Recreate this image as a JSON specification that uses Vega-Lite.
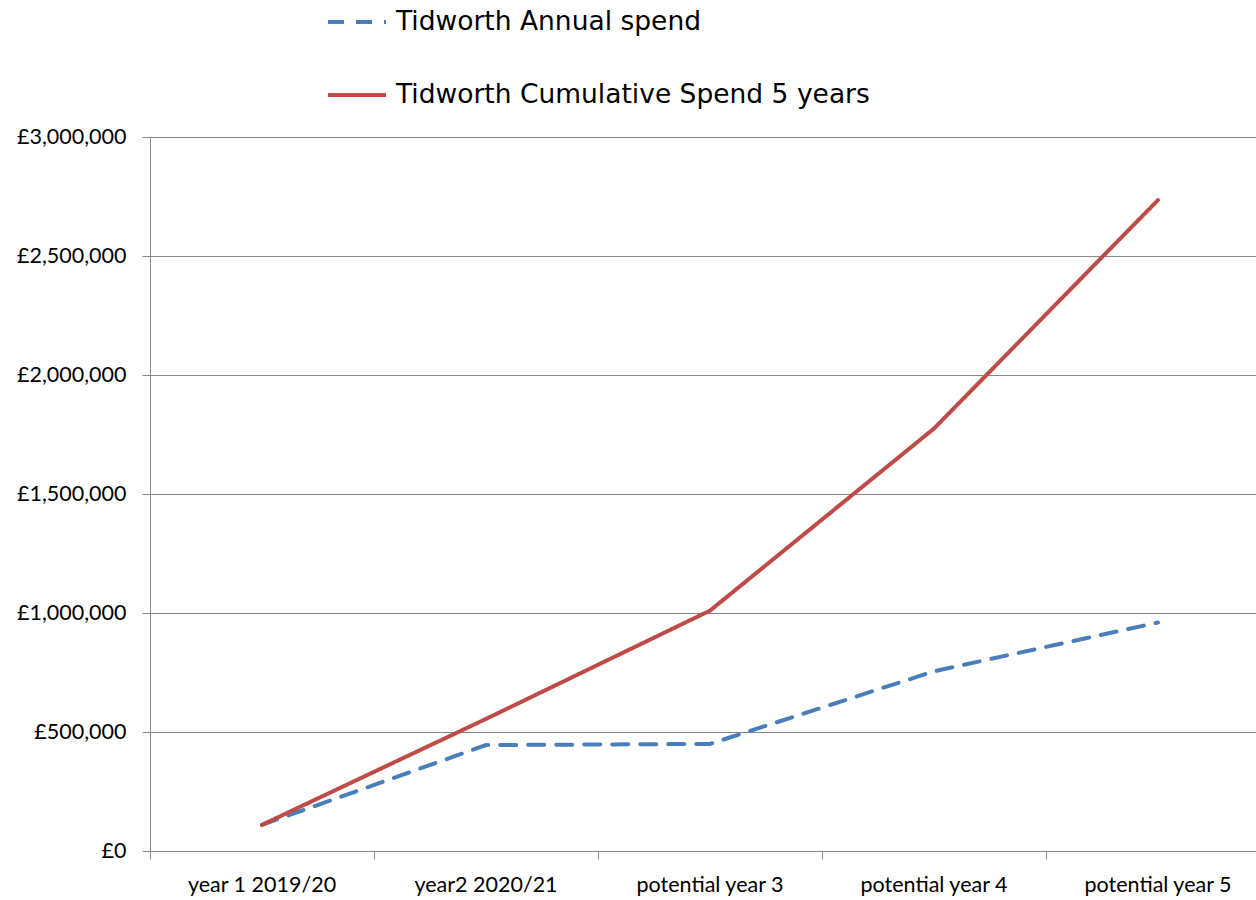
{
  "$schema": "https://vega.github.io/schema/vega-lite/v6.json",
  "width": 1106,
  "height": 714,
  "autosize": {"type": "none"},
  "padding": {"left": 150, "top": 137, "right": 0, "bottom": 49},
  "background": "white",
  "config": {"view": {"stroke": null}},
  "data": {
    "values": [
      {"year": "year 1 2019/20", "series": "Tidworth Annual spend", "value": 110000},
      {"year": "year2 2020/21", "series": "Tidworth Annual spend", "value": 445000},
      {"year": "potential year 3", "series": "Tidworth Annual spend", "value": 450000},
      {"year": "potential year 4", "series": "Tidworth Annual spend", "value": 755000},
      {"year": "potential year 5", "series": "Tidworth Annual spend", "value": 960000},
      {"year": "year 1 2019/20", "series": "Tidworth Cumulative Spend 5 years", "value": 110000},
      {"year": "year2 2020/21", "series": "Tidworth Cumulative Spend 5 years", "value": 555000},
      {"year": "potential year 3", "series": "Tidworth Cumulative Spend 5 years", "value": 1010000},
      {"year": "potential year 4", "series": "Tidworth Cumulative Spend 5 years", "value": 1775000},
      {"year": "potential year 5", "series": "Tidworth Cumulative Spend 5 years", "value": 2735000}
    ]
  },
  "mark": {"type": "line", "strokeWidth": 4, "strokeCap": "round"},
  "encoding": {
    "x": {
      "field": "year",
      "type": "nominal",
      "sort": null,
      "scale": {"type": "band", "range": [0, 1120], "paddingInner": 0, "paddingOuter": 0},
      "axis": {
        "title": null,
        "labelAngle": 0,
        "bandPosition": 0,
        "labelBound": false,
        "labelFont": "Lato",
        "labelFontSize": 21.5,
        "labelColor": "#000000",
        "labelPadding": 15,
        "tickSize": 8,
        "tickColor": "#868686",
        "domainColor": "#868686",
        "grid": false
      }
    },
    "y": {
      "field": "value",
      "type": "quantitative",
      "scale": {"domain": [0, 3000000], "nice": false},
      "axis": {
        "title": null,
        "values": [0, 500000, 1000000, 1500000, 2000000, 2500000, 3000000],
        "labelExpr": "'£' + format(datum.value, ',')",
        "labelFont": "Lato",
        "labelFontSize": 21.5,
        "labelColor": "#000000",
        "labelPadding": 16,
        "tickSize": 8,
        "tickColor": "#868686",
        "domainColor": "#868686",
        "gridColor": "#868686",
        "gridOpacity": 1
      }
    },
    "color": {
      "field": "series",
      "type": "nominal",
      "scale": {
        "domain": ["Tidworth Annual spend", "Tidworth Cumulative Spend 5 years"],
        "range": ["#4A7EBB", "#BE4B48"]
      },
      "legend": {
        "title": null,
        "orient": "none",
        "legendX": 176,
        "legendY": -146,
        "direction": "vertical",
        "symbolType": "stroke",
        "symbolSize": 3364,
        "symbolStrokeWidth": 4,
        "labelFont": "DejaVu Sans",
        "labelFontSize": 26.5,
        "labelColor": "#000000",
        "labelOffset": 8,
        "labelLimit": 700,
        "rowPadding": 28
      }
    },
    "strokeDash": {
      "field": "series",
      "type": "nominal",
      "scale": {
        "domain": ["Tidworth Annual spend", "Tidworth Cumulative Spend 5 years"],
        "range": [[16, 12], [1, 0]]
      },
      "legend": null
    }
  }
}
